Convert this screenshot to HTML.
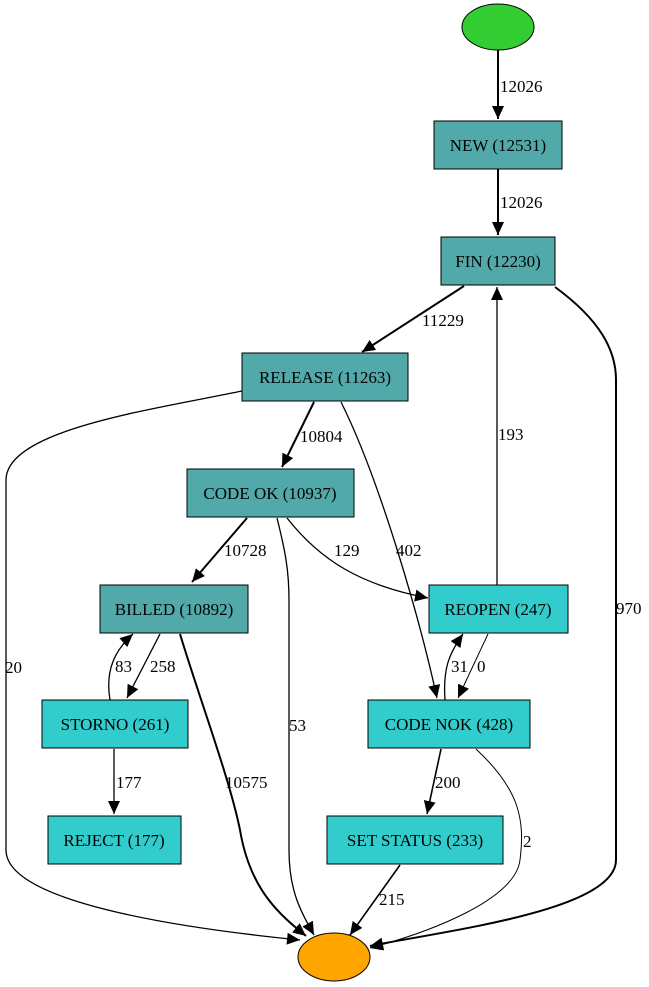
<!DOCTYPE html>
<html><head><meta charset="utf-8"><style>
html,body{margin:0;padding:0;background:#fff;}
svg{display:block;}
text{font-family:"Liberation Serif",serif;font-size:17px;fill:#000;}
.n{font-size:17px;text-anchor:middle;}
</style></head><body>
<svg width="649" height="987" viewBox="0 0 649 987" xmlns="http://www.w3.org/2000/svg">
<defs>
<marker id="a" markerUnits="userSpaceOnUse" markerWidth="14" markerHeight="12" refX="13" refY="6" orient="auto">
<path d="M0,0 L13,6 L0,12 Z" fill="#000"/>
</marker>
</defs>
<g fill="none" stroke="#000">
<path d="M498,50 L498,119" stroke-width="2" marker-end="url(#a)"/>
<path d="M498,169 L498,235" stroke-width="2" marker-end="url(#a)"/>
<path d="M464,286 L362,352" stroke-width="2" marker-end="url(#a)"/>
<path d="M242,391 C150,410 6,430 6,480 L6,850 C6,905 200,930 300,940" stroke-width="1.3" marker-end="url(#a)"/>
<path d="M314,402 L282,467" stroke-width="2" marker-end="url(#a)"/>
<path d="M341,402 C380,480 420,620 437,698" stroke-width="1.3" marker-end="url(#a)"/>
<path d="M555,287 C600,320 616,350 616,380 L616,860 C616,910 450,930 370,946" stroke-width="2" marker-end="url(#a)"/>
<path d="M497,585 L497,287" stroke-width="1.3" marker-end="url(#a)"/>
<path d="M247,518 L192,582" stroke-width="2" marker-end="url(#a)"/>
<path d="M287,518 C320,560 360,585 428,598" stroke-width="1.3" marker-end="url(#a)"/>
<path d="M277,518 C285,550 289,570 289,600 L289,850 C289,890 300,910 314,935" stroke-width="1.3" marker-end="url(#a)"/>
<path d="M160,634 L127,698" stroke-width="1.3" marker-end="url(#a)"/>
<path d="M110,700 C105,670 115,650 133,634" stroke-width="1.3" marker-end="url(#a)"/>
<path d="M180,634 C200,700 230,780 240,830 C250,890 280,915 306,936" stroke-width="2" marker-end="url(#a)"/>
<path d="M445,700 C443,670 448,655 463,634" stroke-width="1.3" marker-end="url(#a)"/>
<path d="M488,634 L458,698" stroke-width="1" marker-end="url(#a)"/>
<path d="M441,749 L427,814" stroke-width="1.6" marker-end="url(#a)"/>
<path d="M476,749 C520,790 525,820 520,860 C515,900 430,932 370,948" stroke-width="1" marker-end="url(#a)"/>
<path d="M114,749 L114,814" stroke-width="1.3" marker-end="url(#a)"/>
<path d="M400,865 L350,935" stroke-width="1.6" marker-end="url(#a)"/>
</g>
<g stroke="#000" stroke-width="1">
<ellipse cx="498" cy="27" rx="36" ry="23" fill="#33cc33"/>
<ellipse cx="334" cy="957" rx="36" ry="24" fill="#ffa500"/>
<rect x="434" y="121" width="128" height="48" fill="#52a9aa"/>
<rect x="441" y="237" width="114" height="48" fill="#52a9aa"/>
<rect x="242" y="353" width="166" height="48" fill="#52a9aa"/>
<rect x="187" y="469" width="167" height="48" fill="#52a9aa"/>
<rect x="100" y="585" width="148" height="48" fill="#52a9aa"/>
<rect x="429" y="585" width="139" height="48" fill="#33cccc"/>
<rect x="42" y="700" width="146" height="48" fill="#33cccc"/>
<rect x="368" y="700" width="162" height="48" fill="#33cccc"/>
<rect x="48" y="816" width="133" height="48" fill="#33cccc"/>
<rect x="327" y="816" width="176" height="48" fill="#33cccc"/>
</g>
<text class="n" x="498" y="151">NEW (12531)</text>
<text class="n" x="498" y="267">FIN (12230)</text>
<text class="n" x="325" y="383">RELEASE (11263)</text>
<text class="n" x="270" y="499">CODE OK (10937)</text>
<text class="n" x="174" y="615">BILLED (10892)</text>
<text class="n" x="498" y="615">REOPEN (247)</text>
<text class="n" x="115" y="730">STORNO (261)</text>
<text class="n" x="449" y="730">CODE NOK (428)</text>
<text class="n" x="114" y="846">REJECT (177)</text>
<text class="n" x="415" y="846">SET STATUS (233)</text>
<text x="500" y="92">12026</text>
<text x="500" y="208">12026</text>
<text x="422" y="326">11229</text>
<text x="5" y="673">20</text>
<text x="300" y="442">10804</text>
<text x="396" y="556">402</text>
<text x="616" y="614">970</text>
<text x="498" y="440">193</text>
<text x="224" y="556">10728</text>
<text x="334" y="556">129</text>
<text x="289" y="731">53</text>
<text x="150" y="672">258</text>
<text x="115" y="672">83</text>
<text x="225" y="788">10575</text>
<text x="451" y="672">31</text>
<text x="477" y="672">0</text>
<text x="435" y="788">200</text>
<text x="523" y="847">2</text>
<text x="116" y="788">177</text>
<text x="379" y="905">215</text>
</svg>
</body></html>
